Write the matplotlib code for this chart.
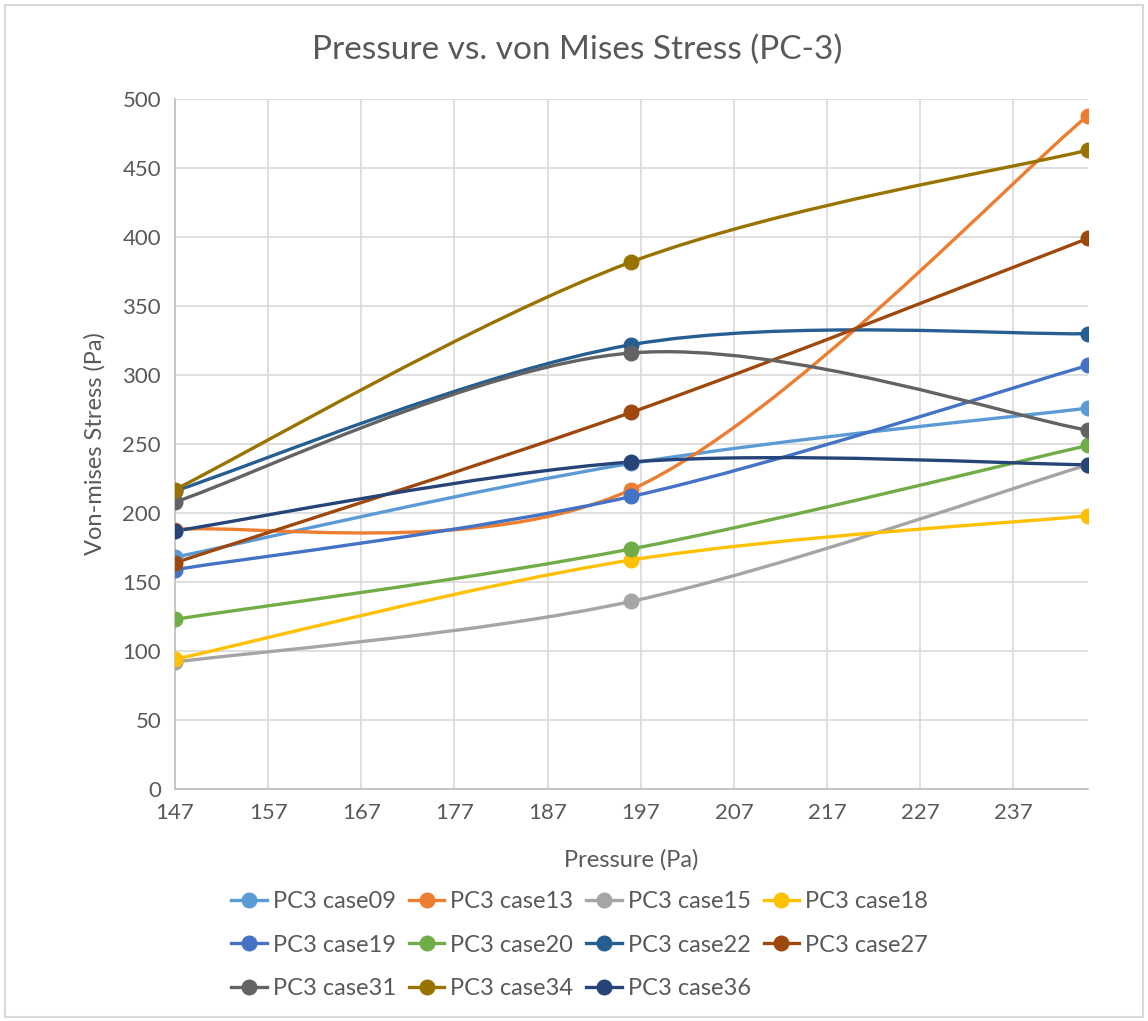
import matplotlib
matplotlib.use("Agg")
from matplotlib import pyplot as plt
from matplotlib.path import Path
from matplotlib.patches import PathPatch, Rectangle
from matplotlib.lines import Line2D

plt.rcParams['font.family'] = ['Lato', 'DejaVu Sans']

# pressure values (Pa)
pressure = [147, 196, 245]

# von mises stress for each case (Pa)
case09 = [168, 236, 276]
case13 = [188, 217, 488]
case15 = [92, 136, 235]
case18 = [94, 166, 198]
case19 = [159, 212, 307]
case20 = [123, 174, 249]
case22 = [216, 322, 330]
case27 = [164, 273, 399]
case31 = [208, 316, 260]
case34 = [217, 382, 463]
case36 = [187, 237, 235]

names = ['PC3 case09', 'PC3 case13', 'PC3 case15', 'PC3 case18', 'PC3 case19',
         'PC3 case20', 'PC3 case22', 'PC3 case27', 'PC3 case31', 'PC3 case34',
         'PC3 case36']
series = [case09, case13, case15, case18, case19, case20, case22, case27,
          case31, case34, case36]
colors = ['#5B9BD5', '#ED7D31', '#A5A5A5', '#FFC000', '#4472C4', '#70AD47',
          '#255E91', '#9E480E', '#636363', '#997300', '#264478']

x_ticks = [147, 157, 167, 177, 187, 197, 207, 217, 227, 237]
y_ticks = [0, 50, 100, 150, 200, 250, 300, 350, 400, 450, 500]


def smooth_path(xs, ys):
    # excel style smoothed line (catmull-rom as bezier segments)
    pts = list(zip(xs, ys))
    verts = [pts[0]]
    codes = [Path.MOVETO]
    n = len(pts)
    for i in range(n - 1):
        p0 = pts[i - 1] if i > 0 else pts[i]
        p1 = pts[i]
        p2 = pts[i + 1]
        p3 = pts[i + 2] if i + 2 < n else pts[i + 1]
        c1 = (p1[0] + (p2[0] - p0[0]) / 6, p1[1] + (p2[1] - p0[1]) / 6)
        c2 = (p2[0] - (p3[0] - p1[0]) / 6, p2[1] - (p3[1] - p1[1]) / 6)
        verts += [c1, c2, p2]
        codes += [Path.CURVE4] * 3
    return Path(verts, codes)


fig = plt.figure(figsize=(11.48, 10.21), dpi=100)
ax = fig.add_axes([0.1524, 0.2272, 0.7953, 0.6758])

grid_c = '#D9D9D9'
txt_c = '#595959'

handles = []
for name, ys, c in zip(names, series, colors):
    patch = PathPatch(smooth_path(pressure, ys), facecolor='none', edgecolor=c,
                      lw=2.4, zorder=3, capstyle='round')
    ax.add_patch(patch)
    ax.plot(pressure, ys, 'o', color=c, markersize=10.5, zorder=4)
    handles.append(Line2D([], [], color=c, lw=2.4, marker='o', markersize=10.5))

ax.set_xlim(147, 245)
ax.set_ylim(0, 500)
ax.set_xticks(x_ticks)
ax.set_yticks(y_ticks)
ax.grid(True, color=grid_c, lw=1.2)
ax.set_axisbelow(True)
for s in ['top', 'right']:
    ax.spines[s].set_visible(False)
for s in ['left', 'bottom']:
    ax.spines[s].set_color('#BFBFBF')
    ax.spines[s].set_linewidth(1.2)
ax.tick_params(length=0, labelsize=16, colors=txt_c, pad=10)

fig.text(0.503, 0.951, 'Pressure vs. von Mises Stress (PC-3)', fontsize=24,
         color=txt_c, ha='center', va='center')
ax.set_xlabel('Pressure (Pa)', fontsize=17, color=txt_c, labelpad=19)
ax.set_ylabel('Von-mises Stress (Pa)', fontsize=17, color=txt_c, labelpad=12)

order = [0, 4, 8, 1, 5, 9, 2, 6, 10, 3, 7]
fig.legend([handles[i] for i in order], [names[i] for i in order], ncol=4,
           loc='center', bbox_to_anchor=(0.505, 0.0744), frameon=False,
           fontsize=17, handlelength=1.5, handletextpad=0.25,
           columnspacing=0.55, labelspacing=0.95, labelcolor=txt_c)

fig.patches.append(Rectangle((0.004, 0.004), 0.992, 0.991,
                             transform=fig.transFigure, fill=False,
                             edgecolor='#D9D9D9', lw=1.5))

fig.savefig('out.png', dpi=100)
